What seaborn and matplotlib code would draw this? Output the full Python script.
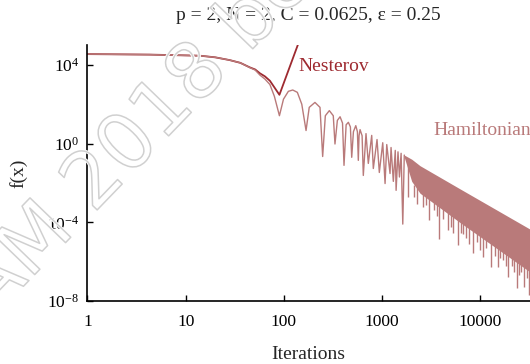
import matplotlib
matplotlib.use('Agg')
import matplotlib.pyplot as plt
import matplotlib.patheffects as pe
from matplotlib.ticker import FixedLocator, FixedFormatter, NullLocator
import seaborn as sns
import pandas as pd

# Nesterov run
nesterov_iter = [1, 4.3, 14, 20, 28, 36, 45, 51, 57, 64, 72, 90, 150]
nesterov_f = [3.5e4, 3.3e4, 2.9e4, 2.4e4, 1.74e4, 1.26e4, 7.4e3, 5.8e3, 3.7e3, 2.6e3, 1.55e3,
              300, 3e5]

# Hamiltonian run, sparse part: peaks, shoulders and troughs up to ~1700 iterations
ham_iter = [1, 4.3, 14, 20, 28, 36, 45, 51, 57, 64, 72, 80, 90, 99, 111, 123, 137, 152, 168,
            181, 207, 233, 248, 264, 290, 318, 331, 350, 373, 395, 409, 430, 453, 475, 490,
            510, 539, 560, 572, 582, 596, 625, 643, 685, 723, 783, 813, 887, 936, 1014, 1071,
            1114, 1203, 1232, 1300, 1360, 1387, 1450, 1500, 1560, 1622, 1680]
ham_f = [3.5e4, 3.3e4, 2.9e4, 2.4e4, 1.74e4, 1.26e4, 7.2e3, 5.4e3, 3.0e3, 1.9e3, 1.0e3, 250,
         26, 180, 450, 525, 400, 100, 4.6,
         69, 123, 69, 0.22, 26, 47, 26, 0.95, 15, 23, 11, 0.078, 9, 12, 7, 0.2,
         4, 8.1, 4, 0.14, 2.5, 5.1, 2.5, 0.024, 3.2, 0.098, 2.6, 0.054, 1.6, 0.034, 1.1, 0.0093,
         0.89, 0.030, 0.63, 0.012, 0.45, 4.2e-3, 0.38, 0.02, 0.32, 8.1e-5, 0.26]

# dense part: oscillation band edges
band_iter = [1680, 2000, 2430, 6000, 32000]
band_upper = [0.26, 0.16, 0.075, 5.5e-3, 4.5e-5]
band_lower = [0.2, 0.012, 3e-3, 1.1e-4, 3e-7]

# deep dips below the band
spike_iter = [1849, 2100, 2250, 2630, 2800, 3005, 3400, 3600, 3820, 4200, 4660, 5000, 5270,
              5970, 6300, 6700, 7150, 7700, 8430, 9300, 10000, 10570, 11500, 12760, 14000,
              15140, 16000, 17000, 18200, 19280, 21000, 22200, 23490, 25000, 26000, 28060,
              29500, 31560]
spike_f = [1.9e-3, 2.0e-3, 8.9e-4, 5.9e-4, 8e-4, 1.26e-4, 4e-4, 2e-4, 1.48e-5, 1.5e-4,
           3.9e-5, 6e-5, 2.75e-5, 6.9e-6, 3e-5, 2.5e-5, 1.55e-5, 8e-6, 2.8e-6, 1e-5, 4e-6,
           1.74e-6, 5e-6, 5.5e-7, 2e-6, 5.5e-7, 1.5e-6, 1.2e-6, 6e-7, 1.7e-7, 6e-7, 3e-7,
           4.5e-8, 2e-7, 3e-7, 5.2e-8, 1.5e-7, 2e-8]
spike_top = [0.1, 8e-3, 6e-3, 3e-3, 2.5e-3, 2e-3, 1.5e-3, 1.2e-3, 1e-3, 7e-4,
             5e-4, 4e-4, 3e-4, 2e-4, 1.8e-4, 1.5e-4, 1e-4, 8e-5, 6e-5, 5e-5, 4.5e-5,
             4e-5, 3e-5, 2e-5, 1.8e-5, 1.5e-5, 1.3e-5, 1.2e-5, 1e-5, 8e-6, 7e-6, 6e-6,
             5e-6, 4.5e-6, 4e-6, 3e-6, 2.5e-6, 2e-6]

title = 'p = 2, N = 2, C = 0.0625, \u03b5 = 0.25'
x_ticks = [1, 10, 100, 1000, 10000]
x_labels = ['1', '10', '100', '1000', '10000']
y_ticks = [1e-8, 1e-4, 1e0, 1e4]
y_labels = [r'$10^{-8}$', r'$10^{-4}$', r'$10^{0}$', r'$10^{4}$']

nest_color = '#9e2a30'
ham_color = '#b97a7a'


def main():
    sns.set_style('ticks')
    plt.rcParams['font.family'] = ['Liberation Serif', 'DejaVu Serif']
    plt.rcParams['mathtext.fontset'] = 'custom'
    plt.rcParams['mathtext.rm'] = 'Liberation Serif'
    plt.rcParams['mathtext.it'] = 'Liberation Serif:italic'
    fs_tick = 12.5
    fs = 14

    fig = plt.figure(figsize=(5.3, 3.64), dpi=100)
    ax = fig.add_axes([0.165, 0.173, 0.835, 0.703])
    ax.set_xscale('log')
    ax.set_yscale('log')

    df_nest = pd.DataFrame({'iteration': nesterov_iter, 'f': nesterov_f})
    df_ham = pd.DataFrame({'iteration': ham_iter, 'f': ham_f})
    sns.lineplot(data=df_nest, x='iteration', y='f', ax=ax, color=nest_color, lw=1.3,
                 estimator=None, sort=False)
    sns.lineplot(data=df_ham, x='iteration', y='f', ax=ax, color=ham_color, lw=1.0,
                 estimator=None, sort=False)
    ax.fill_between(band_iter, band_lower, band_upper, color=ham_color, lw=0)
    ax.vlines(spike_iter, spike_f, spike_top, color=ham_color, lw=1.0)

    ax.set_xlim(1, 3.2e4)
    ax.set_ylim(1e-8, 1e5)
    ax.xaxis.set_major_locator(FixedLocator(x_ticks))
    ax.xaxis.set_major_formatter(FixedFormatter(x_labels))
    ax.yaxis.set_major_locator(FixedLocator(y_ticks))
    ax.yaxis.set_major_formatter(FixedFormatter(y_labels))
    ax.xaxis.set_minor_locator(NullLocator())
    ax.yaxis.set_minor_locator(NullLocator())
    ax.tick_params(direction='in', length=4, width=1, labelsize=fs_tick, colors='black')
    ax.tick_params(axis='x', pad=9)
    ax.tick_params(axis='y', pad=6)
    sns.despine(ax=ax)
    for side in ['left', 'bottom']:
        ax.spines[side].set_linewidth(1.2)
        ax.spines[side].set_color('black')

    ax.set_xlabel('Iterations', fontsize=fs, labelpad=12)
    ax.set_ylabel('f(x)', fontsize=fs, labelpad=14)
    ax.set_title(title, fontsize=fs, pad=18)

    ax.text(139, 7.9e3, 'Nesterov', color=nest_color, fontsize=fs, ha='left', va='center')
    ax.text(3300, 4.6, 'Hamiltonian', color=ham_color, fontsize=fs, ha='left', va='center',
            clip_on=False)

    # watermark: outline only, thin white halo round a light grey stroke
    fig.text(0.213, 0.555, 'SIAM 2018 be', fontsize=56, family='DejaVu Sans',
             color='none', rotation=46, rotation_mode='anchor', ha='center', va='center',
             zorder=10,
             path_effects=[pe.Stroke(linewidth=2.4, foreground='white'),
                           pe.Stroke(linewidth=1.1, foreground='#d0d0d0')])

    fig.savefig('out.png', dpi=100)


if __name__ == '__main__':
    main()
